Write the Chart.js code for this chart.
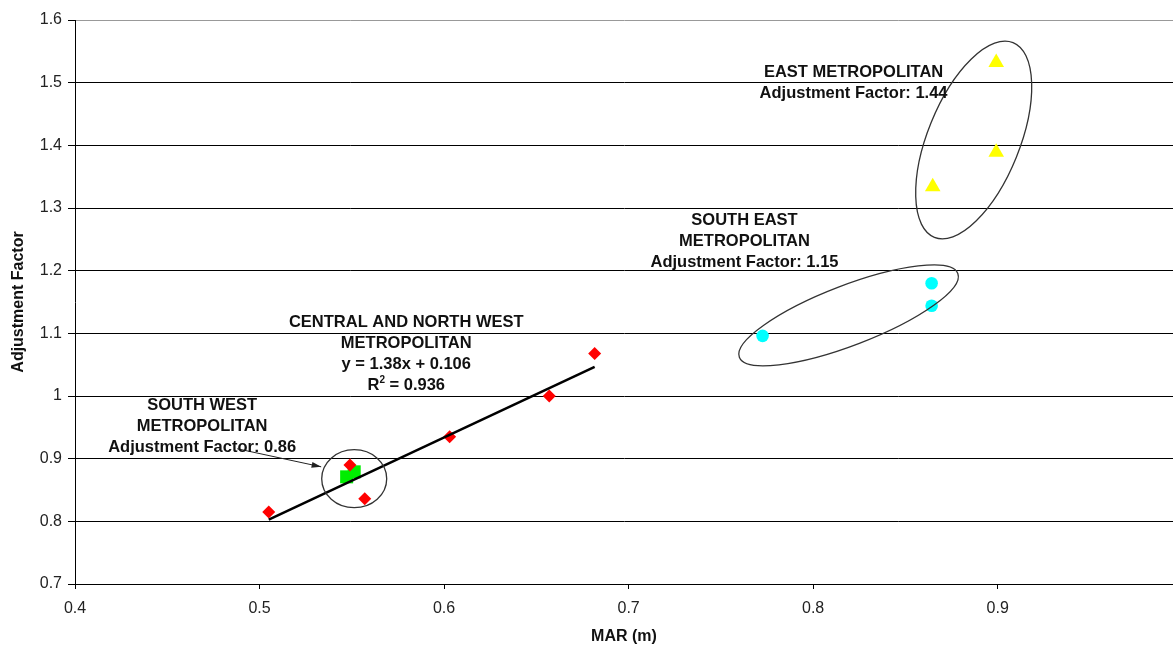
<!DOCTYPE html>
<html>
<head>
<meta charset="utf-8">
<script src="https://cdn.jsdelivr.net/npm/chart.js@4/dist/chart.umd.min.js"></script>
<style>
  html, body { margin: 0; padding: 0; background: #fff; }
  #wrap { width: 1173px; height: 645px; }
</style>
</head>
<body>
<div id="wrap"><canvas id="marChart" width="1173" height="645"></canvas></div>
<script>
// MAR (m) vs adjustment factor, one series per metropolitan region
const centralMar    = [0.505, 0.549, 0.557, 0.603, 0.657, 0.6816];
const centralFactor = [0.815, 0.890, 0.836, 0.935, 1.000, 1.068];

const southWestMar    = [0.5472, 0.5513];
const southWestFactor = [0.871, 0.879];

const southEastMar    = [0.7726, 0.8642, 0.8642];
const southEastFactor = [1.096, 1.180, 1.144];

const eastMar    = [0.8992, 0.8992, 0.8648];
const eastFactor = [1.532, 1.389, 1.334];

// regression for central / north west: y = 1.38x + 0.106
const trendSlope = 1.38;
const trendIntercept = 0.106;

const xTickValues = [0.4, 0.5, 0.6, 0.7, 0.8, 0.9];
const yTickValues = [0.7, 0.8, 0.9, 1.0, 1.1, 1.2, 1.3, 1.4, 1.5, 1.6];

const toPoints = (xs, ys) => xs.map((x, i) => ({ x: x, y: ys[i] }));

const trendX = [Math.min(...centralMar), Math.max(...centralMar)];
const trendPoints = trendX.map(x => ({ x: x, y: trendSlope * x + trendIntercept }));

// group labels, anchored in data units
const groupLabels = [
  { x: 0.5795, y: 1.1167, lines: ['CENTRAL AND NORTH WEST', 'METROPOLITAN', 'y = 1.38x + 0.106', 'R2'] },
  { x: 0.4689, y: 0.9844, lines: ['SOUTH WEST', 'METROPOLITAN', 'Adjustment Factor: 0.86'] },
  { x: 0.7628, y: 1.2794, lines: ['SOUTH EAST', 'METROPOLITAN', 'Adjustment Factor: 1.15'] },
  { x: 0.8219, y: 1.517,  lines: ['EAST METROPOLITAN', 'Adjustment Factor: 1.44'] }
];

// rings around each group (radii in px, rotation in degrees)
const groupRings = [
  { x: 0.887,  y: 1.4086, rx: 105, ry: 46, rot: -68 },
  { x: 0.8192, y: 1.1287, rx: 117, ry: 30, rot: -21 },
  { x: 0.5513, y: 0.868,  rx: 32.5, ry: 29, rot: 0 }
];

const swArrow = { from: { x: 0.4879, y: 0.9158 }, to: { x: 0.5334, y: 0.887 } };

const labelFont = 'bold 16.5px "Liberation Sans", Arial, sans-serif';
const supFont = 'bold 10px "Liberation Sans", Arial, sans-serif';
const lineGap = 21;

const annotations = {
  id: 'annotations',
  afterDatasetsDraw(chart) {
    const { ctx, scales: { x, y } } = chart;
    ctx.save();

    // ellipses
    ctx.strokeStyle = '#333';
    ctx.lineWidth = 1.3;
    groupRings.forEach(r => {
      ctx.beginPath();
      ctx.ellipse(x.getPixelForValue(r.x), y.getPixelForValue(r.y), r.rx, r.ry, r.rot * Math.PI / 180, 0, Math.PI * 2);
      ctx.stroke();
    });

    // arrow to the south west group
    const ax0 = x.getPixelForValue(swArrow.from.x), ay0 = y.getPixelForValue(swArrow.from.y);
    const ax1 = x.getPixelForValue(swArrow.to.x), ay1 = y.getPixelForValue(swArrow.to.y);
    ctx.strokeStyle = '#222';
    ctx.lineWidth = 1;
    ctx.beginPath();
    ctx.moveTo(ax0, ay0);
    ctx.lineTo(ax1, ay1);
    ctx.stroke();
    const ang = Math.atan2(ay1 - ay0, ax1 - ax0);
    ctx.fillStyle = '#222';
    ctx.beginPath();
    ctx.moveTo(ax1, ay1);
    ctx.lineTo(ax1 - 10 * Math.cos(ang - 0.3), ay1 - 10 * Math.sin(ang - 0.3));
    ctx.lineTo(ax1 - 10 * Math.cos(ang + 0.3), ay1 - 10 * Math.sin(ang + 0.3));
    ctx.closePath();
    ctx.fill();

    // text
    ctx.fillStyle = '#111';
    ctx.textBaseline = 'middle';
    groupLabels.forEach(g => {
      const cx = x.getPixelForValue(g.x);
      const cy = y.getPixelForValue(g.y);
      g.lines.forEach((line, i) => {
        const ly = cy + i * lineGap;
        if (line === 'R2') {
          // R squared with a raised 2
          const rest = ' = 0.936';
          ctx.font = labelFont;
          const wR = ctx.measureText('R').width;
          const wRest = ctx.measureText(rest).width;
          ctx.font = supFont;
          const w2 = ctx.measureText('2').width;
          const left = cx - (wR + w2 + wRest) / 2;
          ctx.textAlign = 'left';
          ctx.font = labelFont;
          ctx.fillText('R', left, ly);
          ctx.font = supFont;
          ctx.fillText('2', left + wR, ly - 6);
          ctx.font = labelFont;
          ctx.fillText(rest, left + wR + w2, ly);
        } else {
          ctx.font = labelFont;
          ctx.textAlign = 'center';
          ctx.fillText(line, cx, ly);
        }
      });
    });
    ctx.restore();
  }
};

const tickFont = { family: '"Liberation Sans", Arial, sans-serif', size: 16 };
const titleFont = { family: '"Liberation Sans", Arial, sans-serif', size: 16, weight: 'bold', lineHeight: 1 };

new Chart(document.getElementById('marChart'), {
  type: 'scatter',
  data: {
    datasets: [
      {
        label: 'Central and North West',
        data: toPoints(centralMar, centralFactor),
        pointStyle: 'rectRot', pointRadius: 6.5,
        backgroundColor: '#ff0000', borderColor: '#ff0000', borderWidth: 0,
        order: 2
      },
      {
        label: 'South West',
        data: toPoints(southWestMar, southWestFactor),
        pointStyle: 'rect', pointRadius: 9.2,
        backgroundColor: '#00ee00', borderColor: '#00ee00', borderWidth: 0,
        order: 2
      },
      {
        label: 'South East',
        data: toPoints(southEastMar, southEastFactor),
        pointStyle: 'circle', pointRadius: 6.3,
        backgroundColor: '#00ffff', borderColor: '#00ffff', borderWidth: 0,
        order: 2
      },
      {
        label: 'East',
        data: toPoints(eastMar, eastFactor),
        pointStyle: 'triangle', pointRadius: 9,
        backgroundColor: '#ffff00', borderColor: '#ffff00', borderWidth: 0,
        order: 2
      },
      {
        type: 'line',
        label: 'Trend',
        data: trendPoints,
        borderColor: '#000', borderWidth: 2.5,
        pointRadius: 0, fill: false,
        order: 1
      }
    ]
  },
  options: {
    responsive: false,
    animation: false,
    layout: { autoPadding: false, padding: { top: 20, right: 0, left: 0, bottom: 0 } },
    plugins: {
      legend: { display: false },
      tooltip: { enabled: false }
    },
    scales: {
      x: {
        type: 'linear',
        min: 0.4, max: 0.995,
        afterBuildTicks: s => { s.ticks = xTickValues.map(v => ({ value: v })); },
        afterFit: s => { s.height = 61; s.paddingLeft = 0; s.paddingRight = 0; },
        grid: { drawOnChartArea: false, tickLength: 5, tickColor: '#000' },
        border: { color: '#000', width: 1 },
        ticks: { font: tickFont, color: '#222', padding: 10, maxRotation: 0, callback: v => String(v) },
        title: { display: true, text: 'MAR (m)', font: titleFont, color: '#111', padding: { top: 0, bottom: 0 } }
      },
      y: {
        type: 'linear',
        min: 0.7, max: 1.6,
        afterBuildTicks: s => { s.ticks = yTickValues.map(v => ({ value: v })); },
        afterFit: s => { s.width = 75; s.paddingTop = 0; s.paddingBottom = 0; },
        grid: {
          color: c => (c.tick && c.tick.value === 1.6 ? '#999' : '#000'),
          lineWidth: 1, tickLength: 7, tickColor: '#000'
        },
        border: { color: '#000', width: 1 },
        ticks: { font: tickFont, color: '#222', padding: 6, callback: v => String(v) },
        title: { display: true, text: 'Adjustment Factor', font: titleFont, color: '#111', padding: { top: 11, bottom: 0 } }
      }
    }
  },
  plugins: [annotations]
});
</script>
</body>
</html>
